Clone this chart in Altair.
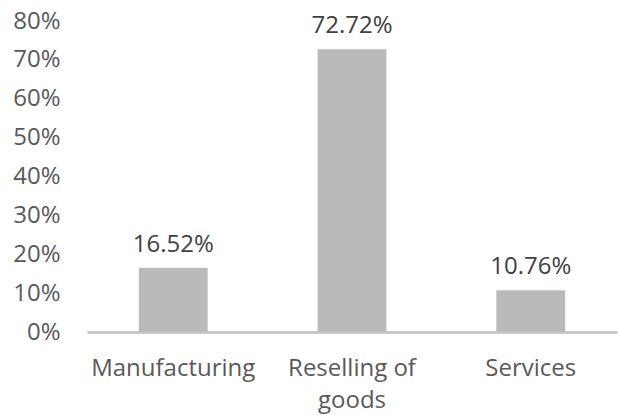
import altair as alt
import pandas as pd

categories = ["Manufacturing", "Reselling of goods", "Services"]
shares = [0.1652, 0.7272, 0.1076]

df = pd.DataFrame({"category": categories, "share": shares})

FONT = "Open Sans"

base = alt.Chart(df).encode(
    x=alt.X(
        "category:N",
        sort=categories,
        title=None,
        scale=alt.Scale(paddingInner=0.615, paddingOuter=0.29),
        axis=alt.Axis(
            labelAngle=0,
            labelFont=FONT,
            labelFontSize=24,
            labelColor="#595959",
            labelPadding=24,
            labelLineHeight=32,
            ticks=False,
            grid=False,
            domainColor="#c8c8c8",
            domainWidth=3,
            labelExpr="datum.label == 'Reselling of goods' ? ['Reselling of', 'goods'] : datum.label",
        ),
    ),
    y=alt.Y(
        "share:Q",
        title=None,
        scale=alt.Scale(domain=[0, 0.8], nice=False),
        axis=alt.Axis(
            format=".0%",
            values=[0, 0.1, 0.2, 0.3, 0.4, 0.5, 0.6, 0.7, 0.8],
            grid=False,
            domain=False,
            ticks=False,
            labelFont=FONT,
            labelFontSize=24,
            labelColor="#595959",
            labelPadding=27,
        ),
    ),
)

bars = base.mark_bar(color="#bababa")

labels = base.mark_text(
    font=FONT,
    fontSize=24,
    color="#404040",
    baseline="alphabetic",
    dy=-16,
).encode(text=alt.Text("share:Q", format=".2%"))

chart = (
    alt.layer(bars, labels)
    .properties(
        width=530,
        height=311,
        background="white",
        autosize=alt.AutoSizeParams(type="none"),
        padding={"left": 87, "top": 21, "right": 1, "bottom": 83},
    )
    .configure_view(strokeWidth=0)
)

chart.save("out.html", embed_options={"renderer": "svg", "actions": False})
